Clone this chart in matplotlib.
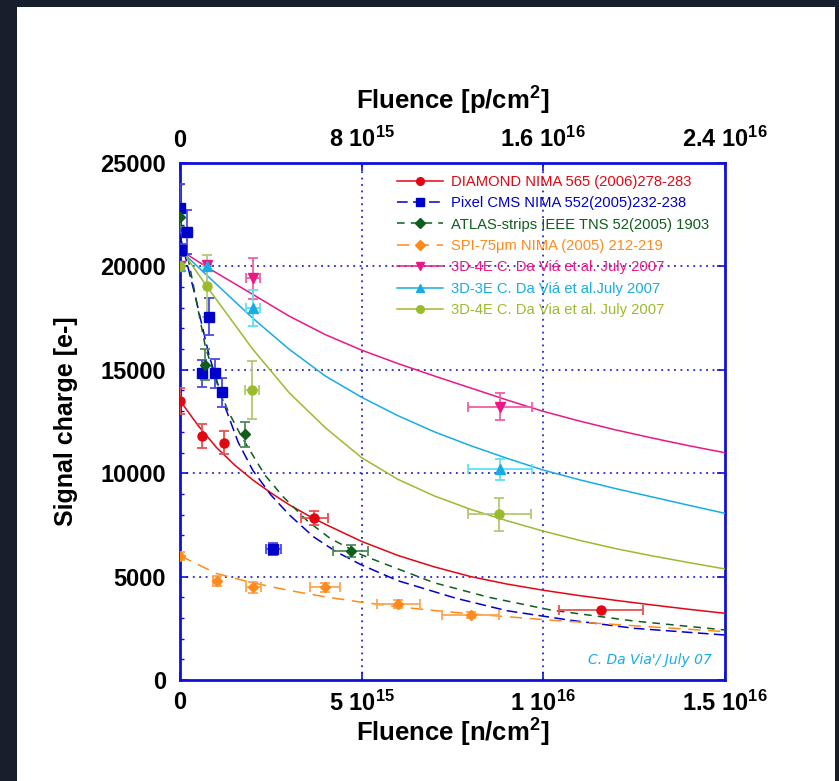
import matplotlib
matplotlib.use('Agg')
import matplotlib.pyplot as plt
from matplotlib import font_manager as fm
from matplotlib.lines import Line2D
from matplotlib.patches import Rectangle

try:
    fm.findfont(fm.FontProperties(family='Liberation Sans Narrow'), fallback_to_default=False)
    NARROW = 'Liberation Sans Narrow'
except Exception:
    NARROW = None
NFAM = NARROW or 'Liberation Sans'
NSIZE = 20 if NARROW else 17
LSIZE = 21 if NARROW else 18.5

plt.rcParams['font.family'] = ['Liberation Sans', 'DejaVu Sans']
plt.rcParams['mathtext.fontset'] = 'custom'
plt.rcParams['mathtext.rm'] = NFAM + ':bold'
plt.rcParams['mathtext.default'] = 'rm'

# ---------------- data (fluence in units of 1e15 n/cm^2) ----------------
dia_x = [0, 0.61, 1.22, 3.7, 11.59]
dia_y = [13500, 11800, 11480, 7850, 3385]
dia_xerr = [0, 0, 0, 0.37, 1.16]
dia_yerr = [620, 570, 565, 340, 0]

pix_x = [0, 0.04, 0.2, 0.6, 0.8, 0.96, 1.16, 2.57]
pix_y = [22800, 20790, 21680, 14830, 17570, 14830, 13910, 6335]
pix_xerr = [0, 0, 0, 0, 0, 0, 0, 0.2]
pix_yerr = [1200, 300, 1070, 650, 900, 700, 700, 300]

atl_x = [0, 0.7, 1.78, 4.7]
atl_y = [22400, 15250, 11880, 6240]
atl_xerr = [0, 0, 0, 0.48]
atl_yerr = [500, 750, 600, 300]

spi_x = [0, 1.01, 2.02, 3.99, 6.01, 8.0]
spi_y = [6010, 4790, 4480, 4480, 3675, 3160]
spi_xerr = [0, 0.1, 0.2, 0.4, 0.6, 0.79]
spi_yerr = [200, 250, 250, 220, 200, 150]

d4p_x = [0, 0.75, 2.0, 8.81]
d4p_y = [20000, 20050, 19420, 13220]
d4p_xerr = [0, 0, 0.19, 0.87]
d4p_yerr = [0, 0, 1000, 645]

d3c_x = [0, 0.75, 2.0, 8.81]
d3c_y = [20000, 20020, 18000, 10190]
d3c_xerr = [0, 0, 0.19, 0.87]
d3c_yerr = [0, 0, 880, 520]

d4o_x = [0, 0.75, 1.99, 8.79]
d4o_y = [20000, 19050, 14020, 8010]
d4o_xerr = [0, 0, 0.19, 0.87]
d4o_yerr = [0, 1500, 1390, 800]

# fitted curves
dia_fit_x = [0, 0.5, 1, 1.5, 2, 2.5, 3, 3.5, 4, 5, 6, 7, 8, 9, 10, 11, 12, 13, 14, 15]
dia_fit_y = [13510, 12300, 11250, 10400, 9680, 9050, 8480, 7980, 7530, 6700, 6020,
             5470, 5000, 4640, 4340, 4080, 3850, 3630, 3420, 3225]

pix_fit_x = [0, 0.4, 0.8, 1.2, 1.6, 2, 2.5, 3, 3.67, 4.3, 5, 6, 7.6, 9, 10.7, 12.5, 15]
pix_fit_y = [21500, 18700, 15700, 13400, 11500, 10150, 8950, 8000, 6930, 6200, 5560,
             4800, 3950, 3350, 2900, 2500, 2175]

atl_fit_x = [0, 0.4, 0.7, 1.05, 1.33, 1.7, 2.34, 2.84, 3.5, 4.13, 5, 5.6, 7, 8.5, 10.2, 12.5, 15]
atl_fit_y = [22400, 18800, 16100, 14200, 12980, 11750, 9900, 8860, 7700, 6850, 6050,
             5640, 4700, 4000, 3385, 2850, 2420]

spi_fit_x = [0, 1, 2, 3, 4, 5, 6, 7, 8, 10, 12, 15]
spi_fit_y = [6010, 5150, 4700, 4330, 4020, 3760, 3540, 3360, 3200, 2920, 2680, 2340]

d4p_fit_x = [0, 0.75, 2, 3, 4, 5, 6, 7, 8, 9, 10, 11, 12, 13, 14, 15]
d4p_fit_y = [20800, 19950, 18650, 17600, 16700, 15950, 15300, 14700, 14120, 13540, 12990,
             12520, 12090, 11700, 11330, 10990]

d3c_fit_x = [0, 0.75, 2, 3, 4, 5, 6, 7, 8, 9, 10, 11, 12, 13, 14, 15]
d3c_fit_y = [20800, 19550, 17500, 16000, 14700, 13670, 12780, 12000, 11330, 10720, 10150,
             9680, 9250, 8850, 8450, 8060]

d4o_fit_x = [0, 0.75, 2, 3, 4, 5, 6, 7, 8, 9, 10, 11, 12, 13, 14, 15]
d4o_fit_y = [20900, 19000, 16000, 13900, 12200, 10750, 9700, 8900, 8250, 7700, 7200,
             6750, 6350, 6000, 5680, 5370]

labels = ['DIAMOND NIMA 565 (2006)278-283',
          'Pixel CMS NIMA 552(2005)232-238',
          'ATLAS-strips IEEE TNS 52(2005) 1903',
          'SPI-75\u03bcm NIMA (2005) 212-219',
          '3D-4E C. Da Vi\u00e1 et al. July 2007',
          '3D-3E C. Da Vi\u00e1 et al.July 2007',
          '3D-4E C. Da Via et al. July 2007']

bottom_ticks = [0, 5, 10, 15]
bottom_labels = ['0', '5 10$^{15}$', '1 10$^{16}$', '1.5 10$^{16}$']
top_ticks = [0, 8, 16, 24]
top_labels = ['0', '8 10$^{15}$', '1.6 10$^{16}$', '2.4 10$^{16}$']
y_ticks = [0, 5000, 10000, 15000, 20000, 25000]

# ---------------- styles ----------------
RED = '#e30613'
BLUE = '#0000cc'
GREEN = '#0d5e1c'
ORANGE = '#ff8a1c'
PINK = '#ec1785'
CYAN = '#17ace6'
OLIVE = '#9bbb2e'
AXBLUE = '#1010d8'

fig = plt.figure(figsize=(8.39, 7.81), dpi=100, facecolor='#171e2c')
fig.patches.append(Rectangle((17 / 839, 0), (835 - 17) / 839, (781 - 7) / 781,
                             transform=fig.transFigure, facecolor='white',
                             edgecolor='none', zorder=-10))
ax = fig.add_axes([180 / 839, 1 - 680 / 781, 545 / 839, 517 / 781])
ax.set_zorder(1)
ax.set_facecolor('white')

series = [
    (dia_x, dia_y, dia_xerr, dia_yerr, dia_fit_x, dia_fit_y, RED, '#e85050', 'o', 6.5, '-', None),
    (pix_x, pix_y, pix_xerr, pix_yerr, pix_fit_x, pix_fit_y, BLUE, '#4a4ae6', 's', 7.5, '--', (7, 3.5)),
    (atl_x, atl_y, atl_xerr, atl_yerr, atl_fit_x, atl_fit_y, GREEN, '#4e8a58', 'D', 5.5, '--', (5, 4)),
    (spi_x, spi_y, spi_xerr, spi_yerr, spi_fit_x, spi_fit_y, ORANGE, '#ffa550', 'D', 5.5, '--', (8, 5)),
    (d4p_x, d4p_y, d4p_xerr, d4p_yerr, d4p_fit_x, d4p_fit_y, PINK, '#f05fa8', 'v', 7.5, '-', None),
    (d3c_x, d3c_y, d3c_xerr, d3c_yerr, d3c_fit_x, d3c_fit_y, CYAN, '#5fe0f5', '^', 7.5, '-', None),
    (d4o_x, d4o_y, d4o_xerr, d4o_yerr, d4o_fit_x, d4o_fit_y, OLIVE, '#b3c873', 'o', 6.5, '-', None),
]

handles = []
for (x, y, xe, ye, fx, fy, col, ecol, mk, ms, ls, dash) in series:
    line, = ax.plot(fx, fy, color=col, lw=1.1, ls=ls, zorder=3)
    if dash is not None:
        line.set_dashes(dash)
    ax.errorbar(x, y, xerr=xe, yerr=ye, fmt='none', ecolor=ecol, elinewidth=1.3,
                capsize=3.5, capthick=1.3, zorder=4)
    ax.plot(x, y, ls='none', marker=mk, ms=ms, color=col, mec=col, zorder=5)
    h = Line2D([], [], color=col, lw=1.1, ls=ls, marker=mk, ms=ms * 0.85, mec=col)
    if dash is not None:
        h.set_dashes(dash)
    handles.append(h)

ax.set_xlim(0, 15)
ax.set_ylim(0, 25000)

# grid
for v in [5, 10]:
    ax.axvline(v, color=BLUE, lw=1.1, ls=(0, (1.2, 3)), zorder=1)
for v in [5000, 10000, 15000, 20000]:
    ax.axhline(v, color=BLUE, lw=1.1, ls=(0, (1.2, 3)), zorder=1)

for s in ax.spines.values():
    s.set_color(AXBLUE)
    s.set_linewidth(2)

ax.set_xticks(bottom_ticks)
ax.set_xticklabels(bottom_labels, fontsize=NSIZE, fontweight='bold', family=NFAM)
ax.set_yticks(y_ticks)
ax.set_yticklabels([str(v) for v in y_ticks], fontsize=17, fontweight='bold')
ax.set_yticks(range(0, 25001, 1000), minor=True)
ax.tick_params(axis='both', which='major', direction='in', length=6, width=1.2,
               color=AXBLUE, right=True, top=False)
ax.tick_params(axis='y', which='minor', direction='in', length=3, width=1, color=AXBLUE)
ax.tick_params(axis='x', which='major', pad=8)
ax.tick_params(axis='y', which='major', pad=10)

ax.set_xlabel('Fluence [n/cm$^{2}$]', fontsize=LSIZE, fontweight='bold', family=NFAM, labelpad=0)
ax.set_ylabel('Signal charge [e-]', fontsize=18, fontweight='bold', labelpad=16)

ax2 = ax.twiny()
ax2.set_xlim(0, 24)
ax2.set_xticks(top_ticks)
ax2.set_xticklabels(top_labels, fontsize=NSIZE, fontweight='bold', family=NFAM)
ax2.tick_params(axis='x', direction='in', length=6, width=1.2, color=AXBLUE, pad=8)
ax2.set_xlabel('Fluence [p/cm$^{2}$]', fontsize=LSIZE, fontweight='bold', family=NFAM, labelpad=12)
for s in ax2.spines.values():
    s.set_visible(False)

leg = ax.legend(handles, labels, loc='upper left', bbox_to_anchor=(0.398, 0.977),
                frameon=False, fontsize=10.6, handlelength=3.1, handletextpad=0.6,
                labelspacing=0.5, borderpad=0, borderaxespad=0)
for t, (_, _, _, _, _, _, col, *_r) in zip(leg.get_texts(), series):
    t.set_color(col)

ax.text(0.975, 0.025, "C. Da Via'/ July 07", transform=ax.transAxes, ha='right',
        va='bottom', color=CYAN, fontsize=10, style='italic', family='DejaVu Sans')

fig.savefig('out.png', dpi=100, facecolor=fig.get_facecolor())
